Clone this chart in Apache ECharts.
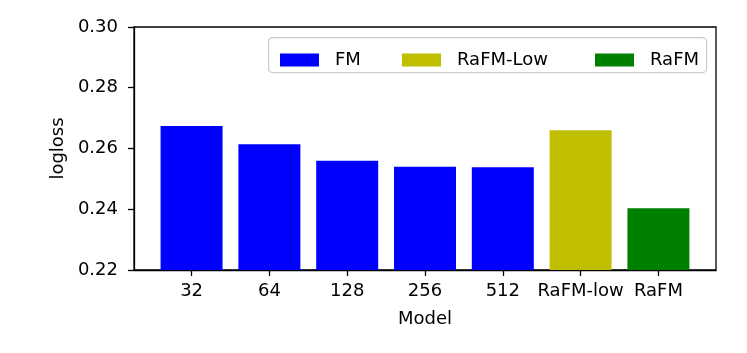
<!DOCTYPE html>
<html>
<head>
<meta charset="utf-8">
<script src="https://cdn.jsdelivr.net/npm/echarts@6/dist/echarts.min.js"></script>
<style>
  html, body { margin: 0; padding: 0; background: #fff; }
  #chart { width: 747px; height: 353px; }
</style>
</head>
<body>
<div id="chart"></div>
<script>
  // data
  const categories = ['32', '64', '128', '256', '512', 'RaFM-low', 'RaFM']
  const fmValues = [0.2674, 0.2614, 0.2560, 0.2540, 0.2538]
  const rafmLowValues = [0.2660]
  const rafmValues = [0.2403]
  const yTicks = [0.22, 0.24, 0.26, 0.28, 0.30]

  const font = 'DejaVu Sans'

  // x positions: FM bars first, then RaFM-low, then RaFM
  const fmData = fmValues.map((v, i) => [i, v])
  const rafmLowData = rafmLowValues.map((v, i) => [fmValues.length + i, v])
  const rafmData = rafmValues.map((v, i) => [fmValues.length + rafmLowValues.length + i, v])
  const catIdx = categories.map((c, i) => i)

  const chart = echarts.init(document.getElementById('chart'), null, { renderer: 'canvas' })

  const barCommon = {
    type: 'bar',
    barWidth: 62,
    barGap: '-100%',
  }

  const legendCommon = {
    orient: 'horizontal',
    top: 46,
    z: 10,
    itemWidth: 39,
    itemHeight: 13,
    icon: 'rect',
    selectedMode: false,
    textStyle: { fontFamily: font, fontSize: 18, color: '#000', padding: [0, 0, 0, 11] },
  }

  chart.setOption({
    animation: false,
    textStyle: { fontFamily: font },
    grid: {
      left: 134,
      right: 31,
      top: 27,
      bottom: 83,
      show: true,
      borderColor: '#000',
      borderWidth: 1.3,
    },
    graphic: [
      {
        type: 'rect',
        left: 268,
        top: 37,
        z: 3,
        shape: { width: 438, height: 35, r: 4 },
        style: { fill: 'rgba(255,255,255,0.8)', stroke: '#cccccc', lineWidth: 1.2 },
      },
    ],
    legend: [
      { ...legendCommon, left: 275, data: ['FM'] },
      { ...legendCommon, left: 397, data: ['RaFM-Low'] },
      { ...legendCommon, left: 590, data: ['RaFM'] },
    ],
    xAxis: {
      type: 'value',
      min: -0.74,
      max: 6.74,
      name: 'Model',
      nameLocation: 'middle',
      nameGap: 40,
      nameTextStyle: { fontFamily: font, fontSize: 18, color: '#000' },
      splitLine: { show: false },
      axisLine: { show: true, onZero: false, lineStyle: { color: '#000', width: 1.3 } },
      axisTick: { show: true, length: 6, customValues: catIdx, lineStyle: { color: '#000', width: 1.3 } },
      axisLabel: {
        customValues: catIdx,
        margin: 12,
        fontFamily: font,
        fontSize: 18,
        color: '#000',
        formatter: (v) => categories[Math.round(v)],
      },
    },
    yAxis: {
      type: 'value',
      min: 0.22,
      max: 0.30,
      interval: 0.02,
      name: 'logloss',
      nameLocation: 'middle',
      nameGap: 66,
      nameTextStyle: { fontFamily: font, fontSize: 18, color: '#000' },
      splitLine: { show: false },
      axisLine: { show: true, onZero: false, lineStyle: { color: '#000', width: 1.3 } },
      axisTick: { show: true, length: 6, lineStyle: { color: '#000', width: 1.3 } },
      axisLabel: {
        margin: 16,
        fontFamily: font,
        fontSize: 18,
        color: '#000',
        customValues: yTicks,
        formatter: (v) => v.toFixed(2),
      },
    },
    series: [
      { ...barCommon, name: 'FM', data: fmData, itemStyle: { color: '#0000ff' } },
      { ...barCommon, name: 'RaFM-Low', data: rafmLowData, itemStyle: { color: '#bfbf00' } },
      { ...barCommon, name: 'RaFM', data: rafmData, itemStyle: { color: '#008000' } },
    ],
  })
</script>
</body>
</html>
